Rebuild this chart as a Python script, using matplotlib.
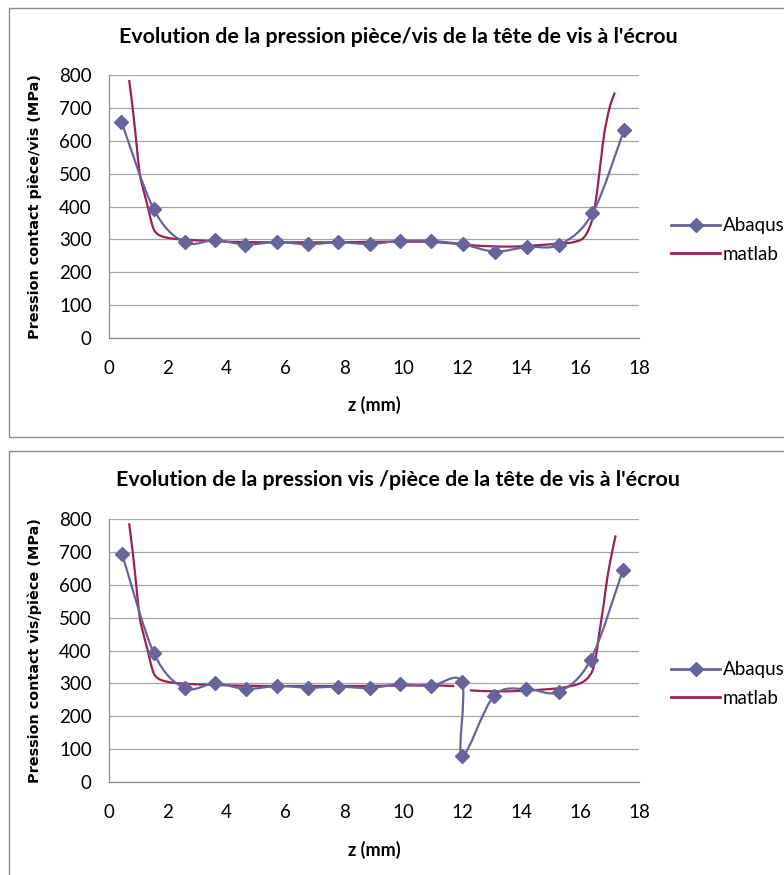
import numpy as np
import matplotlib
matplotlib.use("Agg")
import matplotlib.pyplot as plt
from matplotlib.path import Path
from matplotlib.patches import PathPatch, Rectangle
from matplotlib.lines import Line2D

# ---- data -------------------------------------------------------------
z_abaqus_top = [0.44, 1.54, 2.58, 3.63, 4.64, 5.71, 6.76, 7.80, 8.86, 9.88,
                10.95, 12.02, 13.10, 14.20, 15.30, 16.42, 17.49]
p_abaqus_top = [658, 391, 291, 298, 284, 292, 285, 291, 286, 295,
                295, 285, 263, 277, 284, 379, 632]

z_matlab_top = [0.70, 0.82, 0.94, 1.06, 1.20, 1.33, 1.45, 1.55, 1.70, 1.90,
                2.20, 2.60, 3.00, 3.70, 4.50, 5.50, 6.50, 7.50, 8.50, 9.50,
                10.50, 11.00, 11.50, 12.00, 12.50, 13.00, 13.50, 14.00, 14.50,
                15.00, 15.50, 15.80, 16.05, 16.22, 16.39, 16.50, 16.61, 16.72,
                16.83, 17.00, 17.18]
p_matlab_top = [785, 700, 600, 500, 445, 400, 355, 328, 314, 307,
                302, 299, 297, 294, 292, 291, 291, 291, 292, 293,
                293, 292, 289, 285, 281, 279, 278, 279, 282,
                285, 288, 292, 300, 317, 353, 398, 469, 550,
                627, 700, 747]

z_abaqus_bot = [0.46, 1.54, 2.58, 3.63, 4.65, 5.73, 6.77, 7.80, 8.86, 9.89,
                10.93, 11.99, 11.99, 13.08, 14.17, 15.27, 16.36, 17.46]
p_abaqus_bot = [694, 392, 286, 300, 283, 292, 287, 290, 286, 297,
                292, 304, 78, 262, 283, 274, 372, 646]

# matlab profile for the second case has a break near z = 12 mm (nan)
z_matlab_bot = [0.70, 0.82, 0.94, 1.06, 1.20, 1.33, 1.45, 1.55, 1.70, 1.90,
                2.20, 2.60, 3.00, 3.70, 4.50, 5.50, 6.50, 7.50, 8.50, 9.50,
                10.50, 11.00, 11.40, 11.73, np.nan,
                12.26, 12.60, 13.08, 13.60, 14.17, 14.70, 15.25, 15.60, 15.87,
                16.05, 16.20, 16.32, 16.43, 16.54, 16.65, 16.79, 16.93, 17.10,
                17.21]
p_matlab_bot = [787, 700, 600, 500, 445, 400, 355, 328, 314, 307,
                302, 299, 297, 295, 293, 292, 292, 292, 292, 293,
                294, 294, 293, 292, np.nan,
                279, 277, 276, 276, 278, 281, 285, 290, 296,
                302, 311, 323, 341, 382, 452, 533, 624, 705,
                750]

x_ticks = [0, 2, 4, 6, 8, 10, 12, 14, 16, 18]
y_ticks = [0, 100, 200, 300, 400, 500, 600, 700, 800]

titles = ["Evolution de la pression pièce/vis de la tête de vis à l'écrou",
          "Evolution de la pression vis /pièce de la tête de vis à l'écrou"]
ylabels = ["Pression contact pièce/vis (MPa)",
           "Pression contact vis/pièce (MPa)"]
xlabel = "z (mm)"
series_names = ["Abaqus", "matlab"]

# ---- style ------------------------------------------------------------
C_ABQ = "#65659B"
C_MAT = "#9B2157"
C_GRID = "#A6A6A6"
C_FRAME = "#8C8C8C"
NARROW = ["Lato", "DejaVu Sans"]
WIDE = ["DejaVu Sans"]

W, H = 784, 875
fig = plt.figure(figsize=(W / 100, H / 100), dpi=100)


def smooth_segments(xs, ys):
    """Bezier path through the points (Catmull-Rom style), split at NaN."""
    xs = np.asarray(xs, float)
    ys = np.asarray(ys, float)
    ok = ~(np.isnan(xs) | np.isnan(ys))
    verts, codes = [], []
    idx = np.flatnonzero(ok)
    runs = np.split(idx, np.flatnonzero(np.diff(idx) > 1) + 1)
    for run in runs:
        pts = np.column_stack([xs[run], ys[run]])
        n = len(pts)
        verts.append(pts[0]); codes.append(Path.MOVETO)
        for i in range(n - 1):
            p0 = pts[i - 1] if i > 0 else pts[i]
            p1, p2 = pts[i], pts[i + 1]
            p3 = pts[i + 2] if i + 2 < n else pts[i + 1]
            verts += [p1 + (p2 - p0) / 6, p2 - (p3 - p1) / 6, p2]
            codes += [Path.CURVE4] * 3
    return Path(np.array(verts), codes)


def px(x0, y0, x1, y1):
    """pixel box (top-left origin) -> figure fraction rect"""
    return [x0 / W, 1 - y1 / H, (x1 - x0) / W, (y1 - y0) / H]


panels = [
    dict(frame=(8.5, 8, 800, 437), axes=(108.5, 75, 639, 338), title_y=37,
         xlab_y=405, leg_y=240,
         za=z_abaqus_top, pa=p_abaqus_top, zm=z_matlab_top, pm=p_matlab_top),
    dict(frame=(8.5, 451, 800, 900), axes=(108.5, 519, 639, 782), title_y=480,
         xlab_y=850, leg_y=684,
         za=z_abaqus_bot, pa=p_abaqus_bot, zm=z_matlab_bot, pm=p_matlab_bot),
]

for k, pnl in enumerate(panels):
    fx0, fy0, fx1, fy1 = pnl["frame"]
    fig.patches.append(Rectangle((fx0 / W, 1 - fy1 / H), (fx1 - fx0) / W,
                                 (fy1 - fy0) / H, transform=fig.transFigure,
                                 fill=False, edgecolor=C_FRAME, lw=1.0))

    ax = fig.add_axes(px(*pnl["axes"]))
    ax.set_xlim(0, 18)
    ax.set_ylim(0, 800)
    ax.set_xticks(x_ticks)
    ax.set_yticks(y_ticks)
    ax.grid(axis="y", color=C_GRID, lw=0.9)
    ax.set_axisbelow(True)
    for s in ("top", "right"):
        ax.spines[s].set_visible(False)
    for s in ("left", "bottom"):
        ax.spines[s].set_color("#8C8C8C")
        ax.spines[s].set_linewidth(0.9)
    ax.tick_params(length=0, labelsize=13.5)
    ax.tick_params(axis="y", pad=12)
    ax.tick_params(axis="x", pad=16)
    for lab in ax.get_xticklabels() + ax.get_yticklabels():
        lab.set_family(NARROW)

    # matlab curve
    ax.add_patch(PathPatch(smooth_segments(pnl["zm"], pnl["pm"]), fill=False,
                           edgecolor=C_MAT, lw=1.6, zorder=3))
    # abaqus curve + markers
    ax.add_patch(PathPatch(smooth_segments(pnl["za"], pnl["pa"]), fill=False,
                           edgecolor=C_ABQ, lw=1.6, zorder=4))
    ax.plot(pnl["za"], pnl["pa"], linestyle="none", marker="D", ms=7.2,
            color=C_ABQ, zorder=5)

    fig.text(398 / W, 1 - pnl["title_y"] / H, titles[k], ha="center",
             va="center", fontsize=15.4, fontweight="bold", family=NARROW)
    fig.text(374 / W, 1 - pnl["xlab_y"] / H, xlabel, ha="center",
             va="center", fontsize=13, fontweight="bold", family=NARROW)
    ax.set_ylabel(ylabels[k], fontsize=10.4, fontweight="bold", family=WIDE,
                  labelpad=12)

    handles = [Line2D([], [], color=C_ABQ, lw=2, marker="D", ms=7.2),
               Line2D([], [], color=C_MAT, lw=2)]
    ax.legend(handles, series_names, loc="center left",
              bbox_to_anchor=(662 / W, 1 - pnl["leg_y"] / H),
              bbox_transform=fig.transFigure, frameon=False,
              handlelength=2.6, handletextpad=0.15, labelspacing=0.6,
              borderpad=0, prop={"family": NARROW, "size": 13.5})

fig.savefig("out.png", dpi=100)
